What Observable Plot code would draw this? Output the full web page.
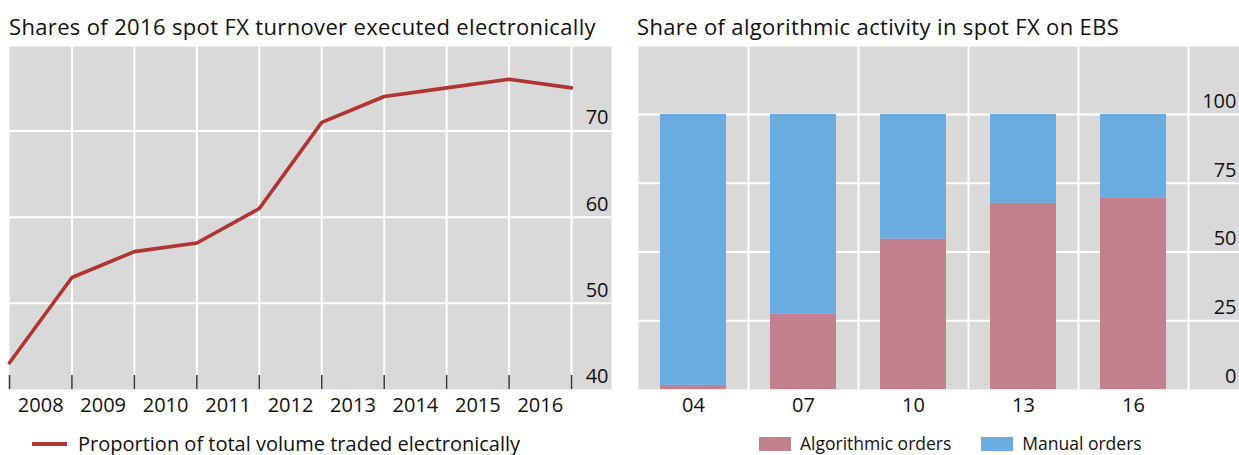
<!DOCTYPE html>
<html>
<head>
<meta charset="utf-8">
<script src="https://cdn.jsdelivr.net/npm/d3@7"></script>
<script src="https://cdn.jsdelivr.net/npm/@observablehq/plot@0.6"></script>
<style>
  html, body { margin: 0; padding: 0; background: #fff; }
  body { font-family: "Open Sans", sans-serif; color: #111; }
  #wrap { position: relative; width: 1239px; height: 455px; overflow: hidden; }
  .title { position: absolute; font-size: 22px; letter-spacing: 0.35px; line-height: 1; white-space: nowrap; }
  .chart { position: absolute; top: 36px; }
  .legend { position: absolute; display: flex; align-items: center; line-height: 1; white-space: nowrap; }
  .sw-line { display: inline-block; width: 35px; height: 4px; margin-right: 11px; }
  .sw-box { display: inline-block; width: 32px; height: 14px; margin-right: 9px; }
</style>
</head>
<body>
<div id="wrap">
  <div class="title" style="left:9px; top:15px;">Shares of 2016 spot FX turnover executed electronically</div>
  <div class="title" style="left:637px; top:15px;">Share of algorithmic activity in spot FX on EBS</div>
  <div id="left" class="chart" style="left:0px;"></div>
  <div id="right" class="chart" style="left:620px;"></div>
  <div class="legend" style="left:32px; top:434px; font-size:20px;"><span class="sw-line" style="background:#b03530"></span><span>Proportion of total volume traded electronically</span></div>
  <div class="legend" style="left:759px; top:435px; font-size:17.5px;">
    <span class="sw-box" style="background:#c2808f"></span><span style="margin-right:30px">Algorithmic orders</span>
    <span class="sw-box" style="background:#6aace0"></span><span>Manual orders</span>
  </div>
</div>
<script>
// ---- Left panel data ----
// observation points, placed at year boundaries (start of each year)
const obsYears = [2008, 2009, 2010, 2011, 2012, 2013, 2014, 2015, 2016, 2017];
const electronicShare = [43.1, 53.0, 56.0, 57.0, 61.0, 71.0, 74.0, 75.0, 76.0, 75.0];
const yearLabels = [2008, 2009, 2010, 2011, 2012, 2013, 2014, 2015, 2016];
const leftYTicks = [40, 50, 60, 70];

// ---- Right panel data ----
const categories = ["04", "07", "10", "13", "16"];
const algorithmic = [1.5, 27.5, 54.7, 67.7, 69.7];
const manual = [98.5, 72.5, 45.3, 32.3, 30.3];
const rightYTicks = [0, 25, 50, 75, 100];
const seriesNames = ["Algorithmic orders", "Manual orders"];
const seriesColors = ["#c2808f", "#6aace0"];

const GREY = "#d9d9d9";
const font = {fontFamily: "'Open Sans', sans-serif", fontSize: "20px", background: "transparent", overflow: "visible", color: "#111"};

// Left chart
const lineData = obsYears.map((yr, i) => ({yr, v: electronicShare[i]}));
const left = Plot.plot({
  width: 620, height: 400,
  marginTop: 10, marginBottom: 47, marginLeft: 9, marginRight: 9,
  style: font,
  x: {type: "linear", domain: [2008, 2017.64], axis: null},
  y: {domain: [40, 79.8], axis: null},
  marks: [
    Plot.frame({fill: GREY, stroke: null}),
    Plot.ruleY(leftYTicks.slice(1), {stroke: "white", strokeWidth: 2}),
    Plot.ruleX(obsYears.slice(1), {stroke: "white", strokeWidth: 2}),
    Plot.tickX(obsYears, {x: d => d, stroke: "#333", strokeWidth: 1.5, insetTop: 329}),
    Plot.line(lineData, {x: "yr", y: "v", stroke: "#b03530", strokeWidth: 3.6, strokeLinejoin: "miter"}),
    Plot.text(leftYTicks, {y: d => d, text: d => String(d), frameAnchor: "right", textAnchor: "end", dx: -3, dy: -13, fontSize: 20, fill: "#111"}),
    Plot.text(yearLabels, {x: d => d + 0.5, text: d => String(d), frameAnchor: "bottom", dy: 22, fontSize: 20, fill: "#111"})
  ]
});
document.getElementById("left").appendChild(left);

// Right chart
const barData = [];
categories.forEach((c, i) => {
  barData.push({cat: c, series: seriesNames[0], value: algorithmic[i]});
  barData.push({cat: c, series: seriesNames[1], value: manual[i]});
});
const step = 110;
const right = Plot.plot({
  width: 619, height: 400,
  marginTop: 10, marginBottom: 47, marginLeft: 18, marginRight: 0,
  style: font,
  x: {type: "band", domain: categories, range: [18, 18 + step * 5], paddingInner: 0.4, paddingOuter: 0.2, axis: null},
  y: {domain: [0, 124.7], axis: null},
  color: {domain: seriesNames, range: seriesColors},
  marks: [
    Plot.frame({fill: GREY, stroke: null}),
    Plot.ruleY(rightYTicks.slice(1), {stroke: "white", strokeWidth: 2}),
    Plot.ruleX(categories, {x: d => d, dx: step / 2, stroke: "white", strokeWidth: 2}),
    Plot.barY(barData, Plot.stackY({x: "cat", y: "value", fill: "series"})),
    Plot.text(rightYTicks, {y: d => d, text: d => String(d), frameAnchor: "right", textAnchor: "end", dx: -3, dy: -13, fontSize: 20, fill: "#111"}),
    Plot.text(categories, {x: d => d, text: d => d, frameAnchor: "bottom", dy: 22, fontSize: 20, fill: "#111"})
  ]
});
document.getElementById("right").appendChild(right);
</script>
</body>
</html>
